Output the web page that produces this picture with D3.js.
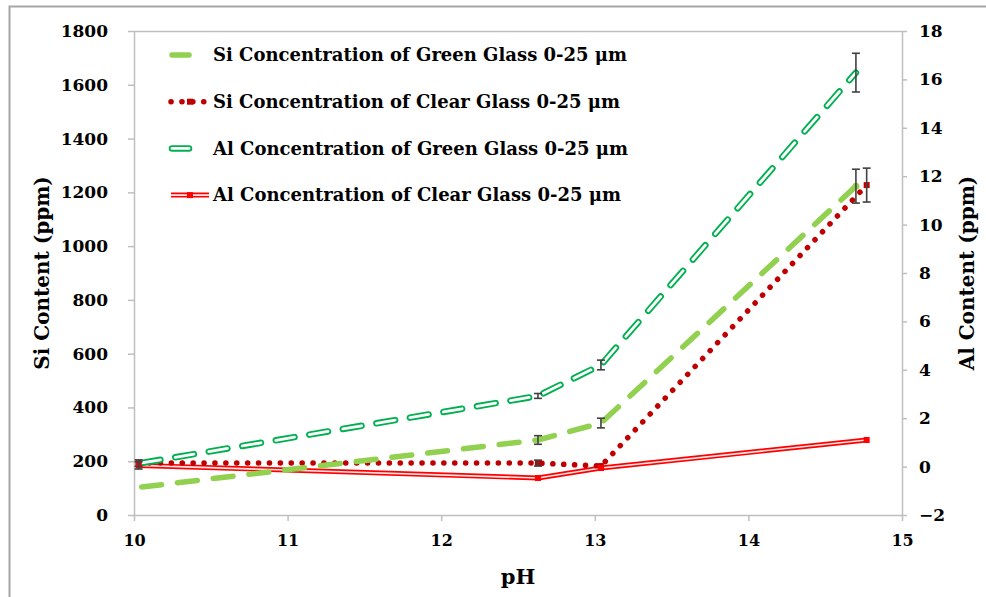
<!DOCTYPE html>
<html>
<head>
<meta charset="utf-8">
<script src="https://cdn.jsdelivr.net/npm/d3@7"></script>
<style>
  body { margin: 0; background: #fff; }
  svg text { font-family: Georgia, "DejaVu Serif", serif; font-weight: bold; fill: #000; }
</style>
</head>
<body>
<div id="chart"></div>
<script>
// pH values and readings taken off the figure
const siGreenPH = [10.05, 12.63, 13.04, 14.70];
const siGreen   = [104, 279, 342, 1223];
const siGreenErr = [0, 16, 18, 63];

const siClearPH = [10.03, 12.63, 13.04, 14.77];
const siClear   = [193, 193, 182, 1227];
const siClearErr = [12, 11, 0, 63];

const alGreenPH = [10.05, 12.63, 13.04, 14.70];
const alGreen   = [0.15, 2.92, 4.2, 16.28];
const alGreenErr = [0, 0.1, 0.2, 0.8];

const alClearPH = [10.03, 12.63, 13.04, 14.77];
const alClear   = [0.05, -0.47, -0.06, 1.1];
const alClearErr = [0.15, 0, 0, 0];

const xTicks = [10, 11, 12, 13, 14, 15];
const siTicks = [0, 200, 400, 600, 800, 1000, 1200, 1400, 1600, 1800];
const alTicks = [-2, 0, 2, 4, 6, 8, 10, 12, 14, 16, 18];

const legendLabels = [
  "Si Concentration of Green Glass 0-25 \u03bcm",
  "Si Concentration of Clear Glass 0-25 \u03bcm",
  "Al Concentration of Green Glass 0-25 \u03bcm",
  "Al Concentration of Clear Glass 0-25 \u03bcm"
];

const W = 986, H = 597;
const plotL = 134, plotR = 902, plotT = 31, plotB = 515;

const svg = d3.select("#chart").append("svg")
  .attr("width", W).attr("height", H);

// outer frame of the picture
svg.append("rect")
  .attr("x", 9.5).attr("y", 6.5)
  .attr("width", W + 20).attr("height", H + 20)
  .attr("fill", "none").attr("stroke", "#a6a6a6").attr("stroke-width", 2);

const x = d3.scaleLinear().domain([10, 15]).range([plotL, plotR]);
const ySi = d3.scaleLinear().domain([0, 1800]).range([plotB, plotT]);
const yAl = d3.scaleLinear().domain([-2, 18]).range([plotB, plotT]);

// top border of plot area
svg.append("line")
  .attr("x1", plotL).attr("x2", plotR).attr("y1", plotT + 0.5).attr("y2", plotT + 0.5)
  .attr("stroke", "#bfbfbf").attr("stroke-width", 1.5);

const axisColor = "#bfbfbf";
function styleAxis(g, fs) {
  g.select(".domain").attr("stroke", axisColor).attr("stroke-width", 1.5);
  g.selectAll(".tick line").attr("stroke", axisColor).attr("stroke-width", 1.5);
  g.selectAll(".tick text").style("font-size", fs + "px");
}

const fmt = d3.format("d");

svg.append("g")
  .attr("transform", `translate(0,${plotB})`)
  .call(d3.axisBottom(x).tickValues(xTicks).tickFormat(fmt).tickSize(6).tickSizeOuter(0).tickPadding(14))
  .call(g => styleAxis(g, 16));

svg.append("g")
  .attr("transform", `translate(${plotL},0)`)
  .call(d3.axisLeft(ySi).tickValues(siTicks).tickFormat(fmt).tickSize(6).tickSizeOuter(0).tickPadding(20))
  .call(g => styleAxis(g, 17));

svg.append("g")
  .attr("transform", `translate(${plotR},0)`)
  .call(d3.axisRight(yAl).tickValues(alTicks).tickFormat(fmt).tickSize(5).tickSizeOuter(0).tickPadding(12))
  .call(g => styleAxis(g, 17));

// axis titles
svg.append("text")
  .attr("transform", `translate(42,${(plotT + plotB) / 2}) rotate(-90)`)
  .attr("text-anchor", "middle").attr("dy", "0.35em")
  .style("font-size", "20px").text("Si Content (ppm)");

svg.append("text")
  .attr("transform", `translate(967,${(plotT + plotB) / 2}) rotate(-90)`)
  .attr("text-anchor", "middle").attr("dy", "0.35em")
  .style("font-size", "20px").text("Al Content (ppm)");

svg.append("text")
  .attr("x", (plotL + plotR) / 2).attr("y", 577)
  .attr("text-anchor", "middle").attr("dy", "0.35em")
  .style("font-size", "21px").text("pH");

// line styles
const styles = {
  siGreen: [{ stroke: "#92d050", width: 5.5, dash: "20 16", cap: "round" }],
  siClear: [{ stroke: "#c00000", width: 5.5, dash: "0.1 10.8", cap: "round" }],
  alGreen: [{ stroke: "#00b050", width: 6.5, dash: "19 15", cap: "round" },
            { stroke: "#ffffff", width: 2.8, dash: "19 15", cap: "round" }],
  alClear: [{ stroke: "#ff0000", width: 5, dash: null, cap: "butt" },
            { stroke: "#ffe6e6", width: 1.6, dash: null, cap: "butt" }]
};

const series = [
  { key: "siGreen", ph: siGreenPH, v: siGreen, e: siGreenErr, y: ySi },
  { key: "siClear", ph: siClearPH, v: siClear, e: siClearErr, y: ySi },
  { key: "alGreen", ph: alGreenPH, v: alGreen, e: alGreenErr, y: yAl },
  { key: "alClear", ph: alClearPH, v: alClear, e: alClearErr, y: yAl }
];

function drawStroke(sel, st) {
  sel.attr("fill", "none")
    .attr("stroke", st.stroke)
    .attr("stroke-width", st.width)
    .attr("stroke-linecap", st.cap)
    .attr("stroke-linejoin", "round")
    .attr("stroke-dasharray", st.dash);
}

const line = s => d3.line().x((d, i) => x(s.ph[i])).y(d => s.y(d));

// Al clear at the bottom, Al green on top
const order = ["alClear", "siClear", "siGreen", "alGreen"];
order.forEach(k => {
  const s = series.find(d => d.key === k);
  styles[k].forEach(st => {
    svg.append("path").datum(s.v).attr("d", line(s)).call(drawStroke, st);
  });
});

// small markers for clear glass series
[series[1], series[3]].forEach(s => {
  const col = s.key === "siClear" ? "#c00000" : "#ff0000";
  svg.append("g").selectAll("rect").data(s.v).join("rect")
    .attr("x", (d, i) => x(s.ph[i]) - 3).attr("y", d => s.y(d) - 3)
    .attr("width", 6).attr("height", 6).attr("fill", col);
});
svg.append("circle")
  .attr("cx", x(siGreenPH[3])).attr("cy", ySi(siGreen[3])).attr("r", 3.5)
  .attr("fill", "#92d050");

// error bars
series.forEach(s => {
  s.v.forEach((v, i) => {
    if (!s.e[i]) return;
    const cx = x(s.ph[i]);
    const y1 = s.y(v + s.e[i]), y2 = s.y(v - s.e[i]);
    const g = svg.append("g").attr("stroke", "#404040").attr("stroke-width", 1.6);
    g.append("line").attr("x1", cx).attr("x2", cx).attr("y1", y1).attr("y2", y2);
    g.append("line").attr("x1", cx - 4).attr("x2", cx + 4).attr("y1", y1).attr("y2", y1);
    g.append("line").attr("x1", cx - 4).attr("x2", cx + 4).attr("y1", y2).attr("y2", y2);
  });
});

// legend
const legendY = 55, legendStep = 46.7;
series.forEach((s, i) => {
  const yy = legendY + i * legendStep;
  const g = svg.append("g");
  const clear = s.key === "siClear" || s.key === "alClear";
  const sx1 = clear ? 171 : 172, sx2 = clear ? 209 : 189;
  styles[s.key].forEach(st => {
    g.append("path")
      .attr("d", d3.line()([[sx1, yy], [sx2, yy]]))
      .call(drawStroke, clear ? st : Object.assign({}, st, { dash: null }));
  });
  if (clear) {
    g.append("rect").attr("x", 187).attr("y", yy - 3).attr("width", 6).attr("height", 6)
      .attr("fill", s.key === "siClear" ? "#c00000" : "#ff0000");
  }
  g.append("text")
    .attr("x", 213).attr("y", yy).attr("dy", "0.35em")
    .style("font-size", "18px")
    .text(legendLabels[i]);
});
</script>
</body>
</html>
